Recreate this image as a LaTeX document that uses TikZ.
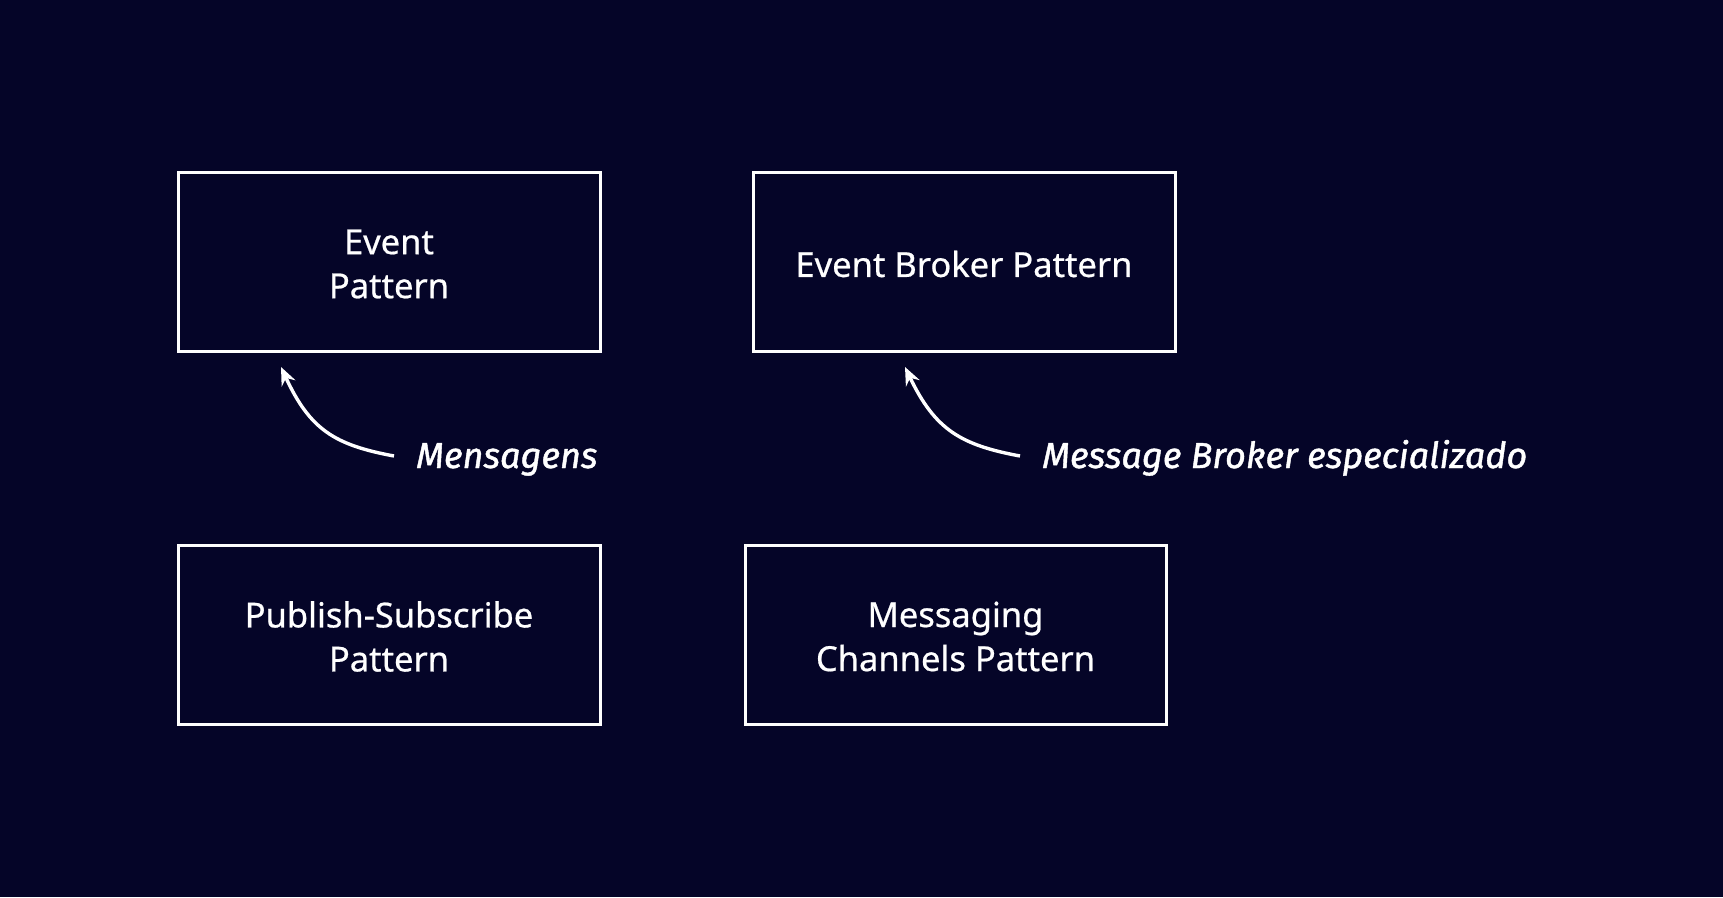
\documentclass[tikz,border=0pt]{standalone}
\usepackage{fontspec}
\setmainfont[FakeBold=0.6]{Noto Sans}
\newfontfamily\handfont[ItalicFeatures={FakeBold=1.2}]{Fira Sans}
\usetikzlibrary{arrows.meta}
\definecolor{bgnavy}{RGB}{5,5,40}
\begin{document}
\begin{tikzpicture}[x=1pt,y=-1pt,
  patbox/.style={draw=white,line width=3pt,fill=bgnavy,minimum height=179pt},
  pattext/.style={text=white,align=center,font=\fontsize{34.5}{44}\selectfont},
  hand/.style={text=white,font=\handfont\itshape\fontsize{36}{44}\selectfont,anchor=base west,inner sep=0pt},
  pointer/.style={draw=white,line width=3.4pt,-{Stealth[length=18pt,width=15pt,inset=6pt]}}]
\fill[bgnavy] (0,0) rectangle (1723,897);
\useasboundingbox (0,0) rectangle (1723,897);
\node[patbox,minimum width=422pt] (ev) at (389,262) {};
\node[patbox,minimum width=422pt] (eb) at (964,262) {};
\node[patbox,minimum width=422pt] (ps) at (389,634.5) {};
\node[patbox,minimum width=421pt] (mc) at (955.5,634.5) {};
\node[pattext] (evt) at ([yshift=-2pt]ev.center) {Event\\Pattern};
\node[pattext] (ebt) at ([yshift=-2pt]eb.center) {Event Broker Pattern};
\node[pattext] (pst) at ([yshift=-2pt]ps.center) {Publish-Subscribe\\Pattern};
\node[pattext] (mct) at ([yshift=-2pt]mc.center) {Messaging\\Channels Pattern};
\node[hand] (l1) at (416,468) {Mensagens};
\node[hand] (l2) at (1042,468) {Message Broker especializado};
\coordinate (s1) at (394,456);
\coordinate (t1) at (281,367);
\coordinate (s2) at (1020,456);
\coordinate (t2) at (905,367);
\draw[pointer] (s1) .. controls (335,445) and (310,430) .. (t1);
\draw[pointer] (s2) .. controls (961,445) and (935,430) .. (t2);
\end{tikzpicture}
\end{document}
